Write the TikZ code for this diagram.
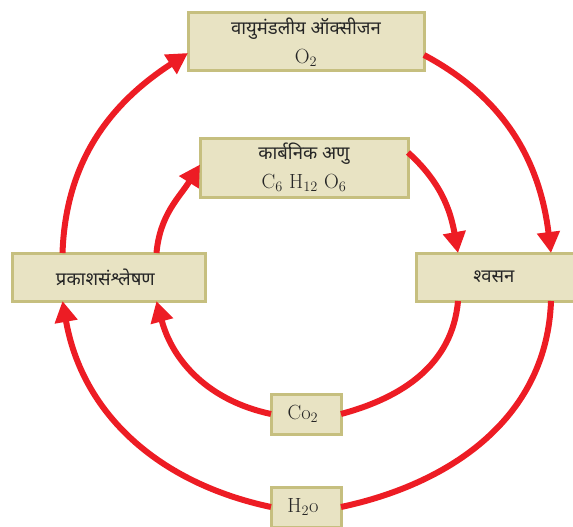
\documentclass[tikz,border=0pt]{standalone}
\usepackage{fontspec}
\usepackage{tikz}
\usetikzlibrary{arrows.meta}
\newfontfamily\hindi[Script=Devanagari]{Noto Sans}
\definecolor{boxfill}{HTML}{E8E3C3}
\definecolor{boxline}{HTML}{C6BF7F}
\definecolor{cyclered}{HTML}{ED1C24}
\tikzset{
    font={\fontsize{20.5pt}{29pt}\selectfont},
    stage/.style={
           rectangle,
           draw=boxline, fill=boxfill,
           line width=3pt,
           inner sep=0pt, outer sep=0pt,
           text=black!85,
           align=center,
           },
    cycle/.style={
           draw=cyclered, line width=6pt,
           },
    tip/.style={
           -{Triangle[length=21pt,width=22pt]},
           },
}
\newcommand{\hin}[1]{{\hindi\fontsize{18.5pt}{29pt}\selectfont #1}}

\begin{document}
\begin{tikzpicture}[x=1pt,y=1pt]
\useasboundingbox (0,0) rectangle (573,-527);

% Boxes of the cycle
\node[stage, minimum width=236pt, minimum height=58pt] (OXYGEN) at (306,-42) {%
    \hin{वायुमंडलीय ऑक्सीजन}\\O\textsubscript{2}
};

\node[stage, minimum width=208pt, minimum height=59pt] (CARBON) at (304,-167.5) {%
    \hin{कार्बनिक अणु}\\C\textsubscript{6} H\textsubscript{12} O\textsubscript{6}
};

\node[stage, minimum width=193pt, minimum height=48pt] (PHOTO) at (108.5,-277) {%
    \hin{प्रकाशसंश्लेषण}
};

\node[stage, minimum width=162pt, minimum height=48pt] (RESP) at (497,-277) {%
    \hin{श्वसन}
};

\node[stage, minimum width=70pt, minimum height=40pt] (COTWO) at (306,-414) {%
    Co\textsubscript{2}
};

\node[stage, minimum width=70pt, minimum height=40pt] (WATER) at (306,-507) {%
    H\textsubscript{2}o
};

% outer loop
\path ([xshift=-46pt]PHOTO.north) edge[cycle,tip,out=88,in=213]   ([yshift=-11pt]OXYGEN.west)
([yshift=-13pt]OXYGEN.east)       edge[cycle,tip,out=-28,in=97]   ([xshift=54pt]RESP.north)
([xshift=54pt]RESP.south)         edge[cycle,out=-92,in=12]       (WATER.east)
(WATER.west)                      edge[cycle,tip,out=168,in=-80]  ([xshift=-46pt]PHOTO.south)
;

% inner loop
\path ([xshift=48pt]PHOTO.north)  edge[cycle,tip,out=85,in=238]   ([yshift=3pt]CARBON.west)
([yshift=15pt]CARBON.east)        edge[cycle,tip,out=-42,in=100]  ([xshift=-39pt]RESP.north)
([xshift=-39pt]RESP.south)        edge[cycle,out=-95,in=15]       (COTWO.east)
(COTWO.west)                      edge[cycle,tip,out=168,in=-75]  ([xshift=48pt]PHOTO.south)
;

\end{tikzpicture}
\end{document}
